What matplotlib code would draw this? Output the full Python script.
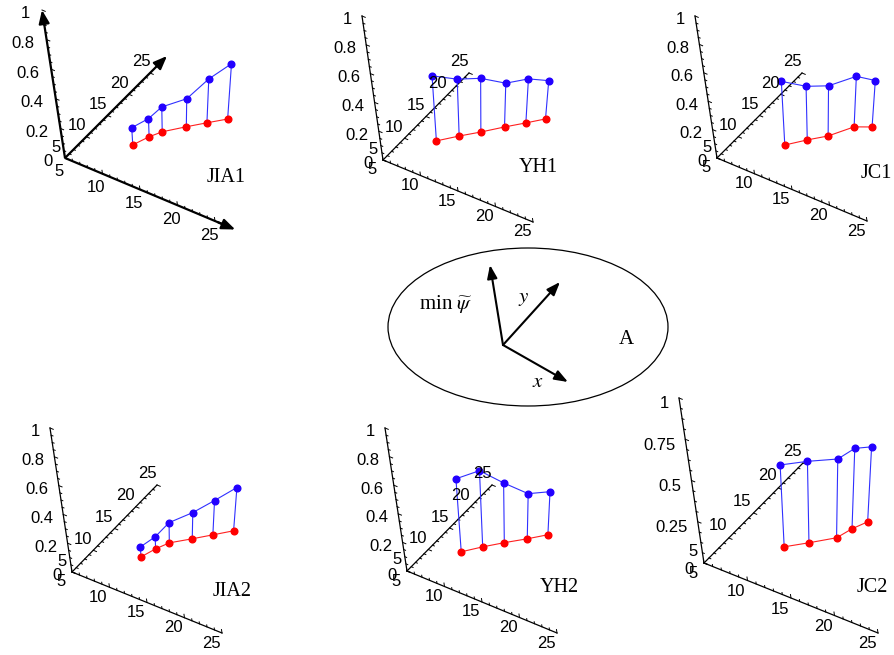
import numpy as np
import matplotlib
matplotlib.use('Agg')
import matplotlib.pyplot as plt
from matplotlib.patches import Ellipse

plt.rcParams['mathtext.fontset'] = 'stix'
SANS = 'Liberation Sans'
SERIF = 'Liberation Serif'

W, H = 894, 655

# ---------------- data (x = y position, z values of the two series) ----------------
jia1_pos = [10.8, 12.2, 13.3, 15.3, 17.0, 18.7]
jia1_blue = [0.16, 0.21, 0.28, 0.32, 0.44, 0.53]
jia1_red = [0.045, 0.089, 0.114, 0.133, 0.147, 0.16]

yh1_pos = [9.6, 11.5, 13.3, 15.25, 17.0, 18.6]
yh1_blue = [0.54, 0.50, 0.49, 0.44, 0.455, 0.43]
yh1_red = [0.092, 0.109, 0.121, 0.139, 0.152, 0.166]

jc1_pos = [10.8, 12.7, 14.45, 16.6, 18.1]
jc1_blue = [0.49, 0.44, 0.43, 0.48, 0.44]
jc1_red = [0.046, 0.067, 0.081, 0.128, 0.116]

jia2_pos = [10.9, 12.15, 13.3, 15.2, 16.9, 18.6]
jia2_blue = [0.12, 0.178, 0.265, 0.317, 0.385, 0.46]
jia2_red = [0.051, 0.095, 0.126, 0.137, 0.149, 0.162]

yh2_pos = [9.7, 11.5, 13.3, 15.2, 16.9]
yh2_blue = [0.60, 0.64, 0.54, 0.45, 0.45]
yh2_red = [0.094, 0.113, 0.127, 0.138, 0.152]

jc2_pos = [10.9, 12.7, 14.7, 15.8, 16.9]
jc2_blue = [0.535, 0.54, 0.536, 0.59, 0.59]
jc2_red = [0.044, 0.052, 0.064, 0.108, 0.14]

xy_ticks = [5, 10, 15, 20, 25]
z_ticks_a = [0, 0.2, 0.4, 0.6, 0.8, 1]
z_labels_a = ['0', '0.2', '0.4', '0.6', '0.8', '1']
z_ticks_b = [0, 0.25, 0.5, 0.75, 1]
z_labels_b = ['0', '0.25', '0.5', '0.75', '1']

panels = [
    dict(name='JIA1', O=(65, 158), ex=(7.5, 3.15), ey=(4.25, -4.25), ez=(-23, -148),
         pos=jia1_pos, blue=jia1_blue, red=jia1_red, arrows=True,
         xend=27.7, yend=29.0, zend=1.0, lab=(226, 177),
         zt=z_ticks_a, zl=z_labels_a, xoff=(-6, 14), yoff=(-9, -11), zoff=(-12, 4)),
    dict(name='YH1', O=(383, 160), ex=(7.5, 3.1), ey=(4.3, -4.35), ez=(-21, -144),
         pos=yh1_pos, blue=yh1_blue, red=yh1_red, arrows=False,
         xend=25, yend=25, zend=1.0, lab=(538, 168),
         zt=z_ticks_a, zl=z_labels_a, xoff=(-11, 10), yoff=(-10, -11), zoff=(-10, 4)),
    dict(name='JC1', O=(717, 158), ex=(7.5, 3.15), ey=(4.25, -4.25), ez=(-22, -142),
         pos=jc1_pos, blue=jc1_blue, red=jc1_red, arrows=False,
         xend=25, yend=25, zend=1.0, lab=(876, 173),
         zt=z_ticks_a, zl=z_labels_a, xoff=(-11, 10), yoff=(-10, -11), zoff=(-10, 4)),
    dict(name='JIA2', O=(72, 572), ex=(7.5, 3.05), ey=(4.25, -4.35), ez=(-22, -144),
         pos=jia2_pos, blue=jia2_blue, red=jia2_red, arrows=False,
         xend=25, yend=25, zend=1.0, lab=(232, 592),
         zt=z_ticks_a, zl=z_labels_a, xoff=(-11, 10), yoff=(-10, -11), zoff=(-10, 4)),
    dict(name='YH2', O=(407, 571), ex=(7.5, 3.1), ey=(4.25, -4.3), ez=(-22, -143),
         pos=yh2_pos, blue=yh2_blue, red=yh2_red, arrows=False,
         xend=25, yend=25, zend=1.0, lab=(559, 588),
         zt=z_ticks_a, zl=z_labels_a, xoff=(-11, 10), yoff=(-10, -11), zoff=(-10, 4)),
    dict(name='JC2', O=(704, 563), ex=(8.7, 3.5), ey=(4.95, -5.0), ez=(-25, -165),
         pos=jc2_pos, blue=jc2_blue, red=jc2_red, arrows=False,
         xend=25, yend=25, zend=1.0, lab=(872, 587),
         zt=z_ticks_b, zl=z_labels_b, xoff=(-11, 11), yoff=(-11, -12), zoff=(-10, 6)),
]

fig = plt.figure(figsize=(W / 100, H / 100), dpi=100)
ax = fig.add_axes([0, 0, 1, 1])
ax.set_xlim(0, W)
ax.set_ylim(H, 0)
ax.axis('off')


def make_proj(P):
    O = np.array(P['O'], float)
    ex = np.array(P['ex'], float)
    ey = np.array(P['ey'], float)
    ez = np.array(P['ez'], float)
    Lz = np.linalg.norm(ez)
    u0 = ez / Lz
    V = O - 4.8 * Lz * u0  # vanishing point of vertical lines

    def proj(x, y, z):
        x = np.atleast_1d(np.asarray(x, float))
        y = np.atleast_1d(np.asarray(y, float))
        z = np.atleast_1d(np.asarray(z, float))
        B = O[None, :] + (x - 5)[:, None] * ex[None, :] + (y - 5)[:, None] * ey[None, :]
        d = B - V[None, :]
        u = d / np.linalg.norm(d, axis=1)[:, None]
        pts = B + (z * Lz)[:, None] * u
        return pts[:, 0], pts[:, 1]
    return proj, ex, ey, ez


for P in panels:
    proj, ex, ey, ez = make_proj(P)
    lw_axis = 1.6 if P['arrows'] else 0.9
    exu = ex / np.linalg.norm(ex)
    ezu = ez / np.linalg.norm(ez)
    # axes lines
    ends = [proj([5, P['xend']], [5, 5], [0, 0]),
            proj([5, 5], [5, P['yend']], [0, 0]),
            proj([5, 5], [5, 5], [0, P['zend']])]
    for (xs, ys) in ends:
        if P['arrows']:
            ax.plot([xs[0], xs[0] + 0.93 * (xs[1] - xs[0])], [ys[0], ys[0] + 0.93 * (ys[1] - ys[0])],
                    color='black', lw=lw_axis, solid_capstyle='butt')
            ax.annotate('', xy=(xs[1], ys[1]),
                        xytext=(xs[0] + 0.9 * (xs[1] - xs[0]), ys[0] + 0.9 * (ys[1] - ys[0])),
                        arrowprops=dict(arrowstyle='-|>,head_length=0.8,head_width=0.32', color='black',
                                        lw=lw_axis, shrinkA=0, shrinkB=0))
        else:
            ax.plot(xs, ys, color='black', lw=lw_axis)
    # minor / major ticks
    for v in np.arange(5, 26, 1.0):
        major = (v % 5 == 0)
        L = 3.5 if major else 2.0
        tx, ty = proj([v], [5], [0])
        ax.plot([tx[0], tx[0] + ezu[0] * L], [ty[0], ty[0] + ezu[1] * L], color='black', lw=0.7)
        tx, ty = proj([5], [v], [0])
        ax.plot([tx[0], tx[0] + exu[0] * L], [ty[0], ty[0] + exu[1] * L], color='black', lw=0.7)
    zstep = P['zt'][1] / 4
    for v in np.arange(0, 1.0001, zstep):
        major = any(abs(v - t) < 1e-6 for t in P['zt'])
        L = 3.5 if major else 2.0
        tx, ty = proj([5], [5], [v])
        ax.plot([tx[0], tx[0] + exu[0] * L], [ty[0], ty[0] + exu[1] * L], color='black', lw=0.7)
    # tick labels
    for v in xy_ticks:
        tx, ty = proj([v], [5], [0])
        ax.text(tx[0] + P['xoff'][0], ty[0] + P['xoff'][1], str(v), family=SANS, fontsize=12,
                ha='center', va='center')
        tx, ty = proj([5], [v], [0])
        ax.text(tx[0] + P['yoff'][0], ty[0] + P['yoff'][1], str(v), family=SANS, fontsize=12,
                ha='center', va='center')
    for v, s in zip(P['zt'], P['zl']):
        tx, ty = proj([5], [5], [v])
        ax.text(tx[0] + P['zoff'][0], ty[0] + P['zoff'][1], s, family=SANS, fontsize=12,
                ha='right', va='center')
    # data
    pos = np.array(P['pos'])
    bx, by = proj(pos, pos, P['blue'])
    rx, ry = proj(pos, pos, P['red'])
    for i in range(len(pos)):
        ax.plot([rx[i], bx[i]], [ry[i], by[i]], color='#3030ff', lw=0.8)
    ax.plot(bx, by, color='#3030ff', lw=0.8, marker='o', ms=4.8, mfc='#2200ff', mec='#2200ff')
    ax.plot(rx, ry, color='#ff2020', lw=0.8, marker='o', ms=4.8, mfc='#ff0000', mec='#ff0000')
    ax.text(P['lab'][0], P['lab'][1], P['name'], family=SERIF, fontsize=14.5, ha='center', va='center')

# ---------------- central diagram ----------------
ax.add_patch(Ellipse((528, 327), 280, 158, fill=False, color='black', lw=0.9))
c = (503, 345)
for tip in [(490, 265), (560, 282), (568, 382)]:
    ax.annotate('', xy=tip, xytext=c,
                arrowprops=dict(arrowstyle='-|>,head_length=0.8,head_width=0.3', color='black', lw=1.5,
                                shrinkA=0, shrinkB=0))
ax.text(446, 304, r'min $\widetilde{\psi}$', family=SERIF, fontsize=15, ha='center', va='center')
ax.text(524, 298, r'$y$', fontsize=15, ha='center', va='center')
ax.text(538, 381, r'$x$', fontsize=15, ha='center', va='center')
ax.text(626, 339, 'A', family=SERIF, fontsize=15, ha='center', va='center')

fig.savefig('out.png', dpi=100)
